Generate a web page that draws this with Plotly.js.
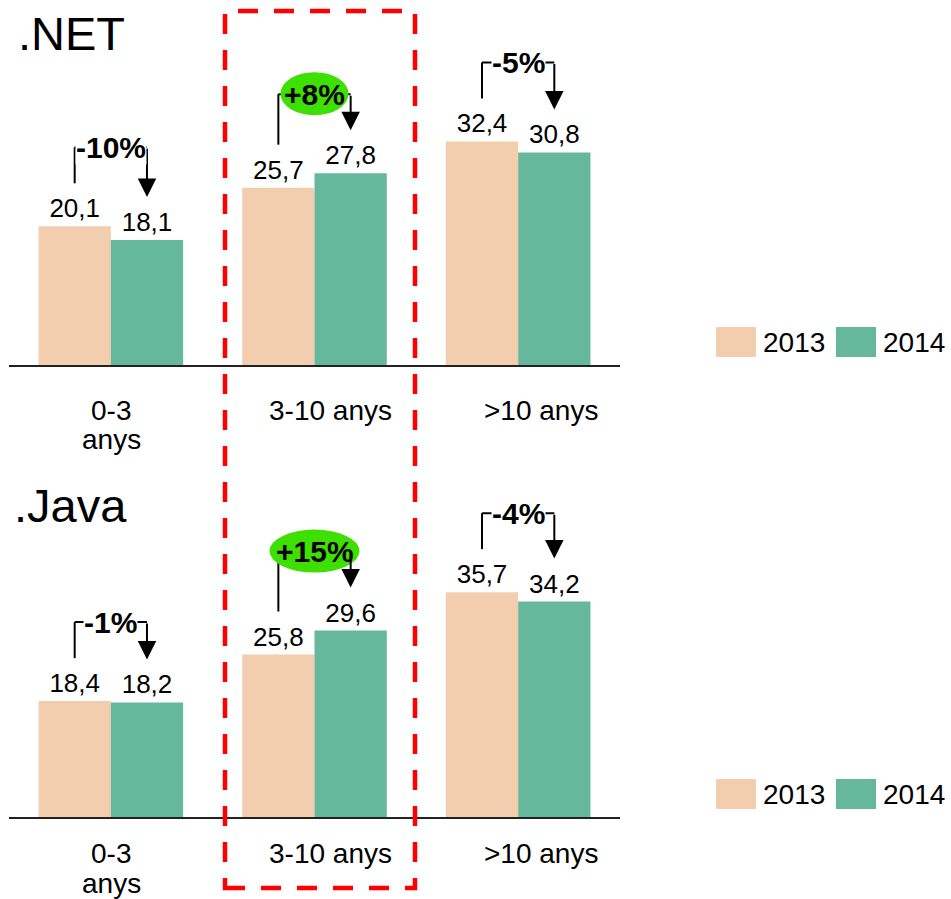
<!DOCTYPE html>
<html>
<head>
<meta charset="utf-8">
<script src="https://cdn.plot.ly/plotly-3.0.1.min.js"></script>
<style>
  html, body { margin: 0; padding: 0; background: #ffffff; }
  #chart { width: 951px; height: 899px; }
</style>
</head>
<body>
<div id="chart"></div>
<script>
// ---------- data ----------
const categories = ['0-3<br>anys', '3-10 anys', '>10 anys'];
const seriesNames = ['2013', '2014'];
const panelTitles = ['.NET', '.Java'];
const net2013 = [20.1, 25.7, 32.4];
const net2014 = [18.1, 27.8, 30.8];
const java2013 = [18.4, 25.8, 35.7];
const java2014 = [18.2, 29.6, 34.2];
const netChange = ['-10%', '+8%', '-5%'];
const javaChange = ['-1%', '+15%', '-4%'];

// ---------- styles / geometry ----------
const W = 951, H = 899;
const colors = ['#F2CEAE', '#66B89C'];
const FONT = 'Liberation Sans, Arial, Helvetica, sans-serif';
const bargap = 0.29;
const xDom = [9 / W, 620 / W];
const topDom = [1 - 365 / H, 1];
const topRange = [0, 52.9];
const botDom = [1 - 817 / H, 1 - 470 / H];
const botRange = [0, 55.1];
const ppuTop = (topDom[1] - topDom[0]) * H / (topRange[1] - topRange[0]);
const ppuBot = (botDom[1] - botDom[0]) * H / (botRange[1] - botRange[0]);
// category label placement (pixels) as in the original layout
const labelCentersPx = [111, 330, 541];
const labelRowsPx = [410, 853];
const labelLineStep = 30;

function barTrace(name, x, y, color, xa, ya) {
  return {
    type: 'bar', name: name, x: x, y: y,
    xaxis: xa, yaxis: ya,
    marker: { color: color, line: { width: 0 } },
    texttemplate: '%{y:.1f}', textposition: 'outside',
    textfont: { family: FONT, size: 26, color: '#000000' },
    cliponaxis: false, showlegend: false, hoverinfo: 'skip'
  };
}

const data = [
  barTrace(seriesNames[0], categories, net2013, colors[0], 'x', 'y'),
  barTrace(seriesNames[1], categories, net2014, colors[1], 'x', 'y'),
  barTrace(seriesNames[0], categories, java2013, colors[0], 'x2', 'y2'),
  barTrace(seriesNames[1], categories, java2014, colors[1], 'x2', 'y2')
];

const shapes = [];
const annotations = [];
const half = (1 - bargap) / 4;

function brackets(xref, yref, v13, v14, labels, ppu) {
  const ellipses = [];
  for (let i = 0; i < v13.length; i++) {
    const x13 = i - half, x14 = i + half;
    const lb = v13[i] + 43 / ppu;
    const tip = v14[i] + 43 / ppu;
    const level = Math.max(lb, tip) + 36 / ppu;
    const positive = labels[i].charAt(0) === '+';
    shapes.push({ type: 'line', xref: xref, yref: yref, x0: x13, x1: x13, y0: lb, y1: level,
                  line: { color: '#000', width: 2 } });
    shapes.push({ type: 'line', xref: xref, yref: yref, x0: x13, x1: x14, y0: level, y1: level,
                  line: { color: '#000', width: 2 } });
    annotations.push({ xref: xref, yref: yref, x: x14, y: tip, axref: xref, ayref: yref,
                       ax: x14, ay: level, text: '', showarrow: true, arrowhead: 2,
                       arrowsize: 1.85, arrowwidth: 2, arrowcolor: '#000' });
    if (positive) {
      const w = labels[i].length * 22 + 2;
      ellipses.push({ type: 'circle', xref: xref, yref: yref,
                      xsizemode: 'pixel', xanchor: i, x0: -w / 2, x1: w / 2,
                      ysizemode: 'pixel', yanchor: level, y0: -21, y1: 22,
                      fillcolor: '#3DE000', line: { width: 0 } });
    }
    annotations.push({ xref: xref, yref: yref, x: i, y: level, text: '<b>' + labels[i] + '</b>',
                       showarrow: false, xanchor: 'center', yanchor: 'middle',
                       bgcolor: positive ? 'rgba(0,0,0,0)' : '#ffffff', borderpad: 0,
                       font: { family: FONT, size: 30, color: '#000' } });
  }
  ellipses.forEach(e => shapes.push(e));
}
brackets('x', 'y', net2013, net2014, netChange, ppuTop);
brackets('x2', 'y2', java2013, java2014, javaChange, ppuBot);

// category labels below each axis (one annotation per text line)
labelRowsPx.forEach(cy => {
  categories.forEach((c, i) => {
    c.split('<br>').forEach((line, j) => {
      annotations.push({ xref: 'paper', yref: 'paper', x: labelCentersPx[i] / W,
                         y: 1 - (cy + j * labelLineStep) / H,
                         xanchor: 'center', yanchor: 'middle', text: line, showarrow: false,
                         font: { family: FONT, size: 28, color: '#000' } });
    });
  });
});

// panel titles
annotations.push({ xref: 'paper', yref: 'paper', x: 16 / W, y: 1 - 34 / H, xanchor: 'left', yanchor: 'middle',
                   text: panelTitles[0], showarrow: false, font: { family: FONT, size: 47, color: '#000' } });
annotations.push({ xref: 'paper', yref: 'paper', x: 12 / W, y: 1 - 505 / H, xanchor: 'left', yanchor: 'middle',
                   text: panelTitles[1], showarrow: false, font: { family: FONT, size: 47, color: '#000' } });

// legends (one per panel)
[342, 794].forEach(cy => {
  const xs = [716, 836];
  xs.forEach((x0, k) => {
    shapes.push({ type: 'rect', xref: 'paper', yref: 'paper', x0: x0 / W, x1: (x0 + 40) / W,
                  y0: 1 - (cy + 15) / H, y1: 1 - (cy - 15) / H, fillcolor: colors[k], line: { width: 0 } });
    annotations.push({ xref: 'paper', yref: 'paper', x: (x0 + 45) / W, y: 1 - cy / H,
                       xanchor: 'left', yanchor: 'middle', text: seriesNames[k], showarrow: false,
                       font: { family: FONT, size: 28, color: '#000' } });
  });
});

// red dashed highlight box
shapes.push({ type: 'rect', xref: 'paper', yref: 'paper', x0: 225 / W, x1: 415 / W,
              y0: 1 - 888 / H, y1: 1 - 11 / H, fillcolor: 'rgba(0,0,0,0)',
              line: { color: '#FF0000', width: 4.5, dash: '20px,16px' } });

const xaxisBase = {
  range: [-0.5, 2.5], showline: true, linecolor: '#222', linewidth: 2,
  ticks: '', showgrid: false, zeroline: false, fixedrange: true,
  showticklabels: false, domain: xDom
};

const layout = {
  width: W, height: H,
  margin: { l: 0, r: 0, t: 0, b: 0 },
  paper_bgcolor: '#ffffff', plot_bgcolor: '#ffffff',
  font: { family: FONT, color: '#000' },
  separators: ',.',
  barmode: 'group', bargap: bargap, bargroupgap: 0,
  showlegend: false,
  xaxis: Object.assign({}, xaxisBase, { anchor: 'y' }),
  xaxis2: Object.assign({}, xaxisBase, { anchor: 'y2' }),
  yaxis: { domain: topDom, range: topRange, visible: false, fixedrange: true },
  yaxis2: { domain: botDom, range: botRange, visible: false, fixedrange: true },
  shapes: shapes,
  annotations: annotations
};

Plotly.newPlot('chart', data, layout, { staticPlot: true, displayModeBar: false });
</script>
</body>
</html>
